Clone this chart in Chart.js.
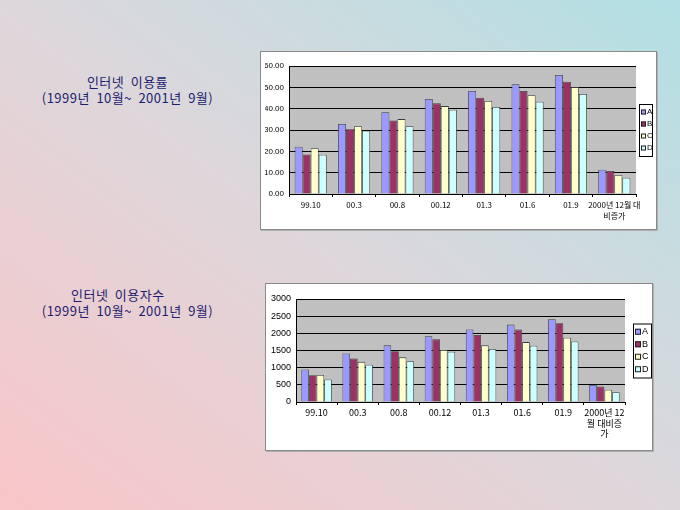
<!DOCTYPE html>
<html>
<head>
<meta charset="utf-8">
<script src="https://cdn.jsdelivr.net/npm/chart.js@4/dist/chart.umd.min.js"></script>
<style>
  html, body { margin: 0; padding: 0; }
  body {
    width: 680px; height: 510px; position: relative; overflow: hidden;
    background: linear-gradient(to top right, #f9c5c8 0%, #ddd7db 50%, #b2e0e4 100%);
    font-family: "Noto Sans CJK KR", sans-serif;
  }
  .title { position: absolute; color: #1c1c6e; font-size: 13px; line-height: 16px; text-align: center; white-space: pre; letter-spacing: 0.5px; word-spacing: 3px; }
  .box { position: absolute; background: #fff; border: 1px solid #8a8a8a; box-shadow: 1px 1px 0 #b0b0b0; }
  .box canvas { position: absolute; left: 0; top: 0; }
</style>
</head>
<body>
<div class="title" style="left:40px; top:74px; width:175px;">인터넷 이용률
(1999년 10월~ 2001년 9월)</div>
<div class="title" style="left:40px; top:287px; width:175px;">인터넷 이용자수   
(1999년 10월~ 2001년 9월)</div>

<div class="box" style="left:260px; top:51px; width:395px; height:177px;">
  <canvas id="rateChart" width="395" height="177"></canvas>
</div>
<div class="box" style="left:265px; top:283px; width:386px; height:166px;">
  <canvas id="userChart" width="386" height="166"></canvas>
</div>

<script>
// data
const rateLabels = ['99.10', '00.3', '00.8', '00.12', '01.3', '01.6', '01.9', ['2000년 12월 대', '비증가']];
const rateA = [22.2, 32.8, 38.3, 44.5, 48.3, 51.4, 55.8, 11.4];
const rateB = [18.5, 30.4, 34.4, 42.5, 45.1, 48.3, 52.6, 10.8];
const rateC = [21.5, 31.8, 35.1, 41.2, 43.6, 46.3, 50.1, 8.9];
const rateD = [18.4, 29.7, 31.8, 39.5, 40.8, 43.3, 46.9, 7.6];
const rateTicks = [0, 10, 20, 30, 40, 50, 60];

const userLabels = ['99.10', '00.3', '00.8', '00.12', '01.3', '01.6', '01.9', ['2000년 12', '월 대비증', '가']];
const userA = [945, 1415, 1650, 1915, 2110, 2255, 2410, 495];
const userB = [780, 1270, 1480, 1825, 1955, 2110, 2295, 455];
const userC = [785, 1170, 1300, 1515, 1650, 1745, 1875, 360];
const userD = [655, 1085, 1190, 1465, 1545, 1640, 1760, 285];
const userTicks = [0, 500, 1000, 1500, 2000, 2500, 3000];

const seriesNames = ['A', 'B', 'C', 'D'];
const seriesColors = ['#9999ff', '#993366', '#ffffcc', '#ccffff'];

const plotBg = {
  id: 'plotBg',
  beforeDraw(chart) {
    const a = chart.chartArea;
    const ctx = chart.ctx;
    ctx.save();
    ctx.fillStyle = '#c0c0c0';
    ctx.fillRect(a.left, a.top, a.right - a.left, a.bottom - a.top);
    ctx.restore();
  }
};

// small boxed legend right of the plot
const boxLegend = {
  id: 'boxLegend',
  afterDraw(chart, args, o) {
    const ctx = chart.ctx;
    const a = chart.chartArea;
    const n = chart.data.datasets.length;
    const h = n * o.lineH + 4;
    const x = a.right + o.gap;
    const y = (a.top + a.bottom) / 2 - h / 2;
    ctx.save();
    ctx.fillStyle = '#fff';
    ctx.fillRect(x, y, o.width, h);
    ctx.strokeStyle = '#000';
    ctx.lineWidth = 1;
    ctx.strokeRect(x + 0.5, y + 0.5, o.width, h);
    ctx.font = o.fontSize + 'px "Liberation Sans", sans-serif';
    ctx.textBaseline = 'middle';
    chart.data.datasets.forEach((ds, i) => {
      const cy = y + 2 + o.lineH * i + o.lineH / 2;
      ctx.fillStyle = ds.backgroundColor;
      ctx.fillRect(x + 2, cy - o.box / 2, o.box, o.box);
      ctx.strokeStyle = '#222';
      ctx.strokeRect(x + 2.5, cy - o.box / 2 + 0.5, o.box - 1, o.box - 1);
      ctx.fillStyle = '#000';
      ctx.fillText(ds.label, x + 3 + o.box, cy);
    });
    ctx.restore();
  }
};

function makeChart(id, labels, series, ticks, cfg) {
  return new Chart(document.getElementById(id), {
    type: 'bar',
    data: {
      labels: labels,
      datasets: series.map((d, i) => ({
        label: seriesNames[i],
        data: d,
        backgroundColor: seriesColors[i],
        borderColor: '#3a3a3a',
        borderWidth: 0.8,
        categoryPercentage: 0.74,
        barPercentage: 1.0
      }))
    },
    options: {
      responsive: false,
      animation: false,
      devicePixelRatio: 1,
      layout: { padding: cfg.padding },
      plugins: {
        legend: { display: false },
        tooltip: { enabled: false },
        boxLegend: cfg.legend
      },
      scales: {
        x: {
          grid: { offset: true, drawOnChartArea: false, color: '#000', tickLength: 3 },
          border: { color: '#000' },
          ticks: {
            color: '#000', padding: 2, maxRotation: 0, autoSkip: false,
            font: { family: '"Noto Sans CJK KR", sans-serif', size: cfg.xFont, lineHeight: cfg.xLine }
          },
          afterFit(s) { s.height = cfg.xHeight; }
        },
        y: {
          min: ticks[0],
          max: ticks[ticks.length - 1],
          afterBuildTicks(s) { s.ticks = ticks.map(v => ({ value: v })); },
          grid: { color: '#000', drawTicks: false },
          border: { color: '#000' },
          ticks: {
            color: '#000', padding: 5,
            font: { family: '"Liberation Sans", sans-serif', size: cfg.yFont },
            callback: cfg.fmt
          },
          afterFit(s) { s.width = cfg.yWidth; }
        }
      }
    },
    plugins: [plotBg, boxLegend]
  });
}

makeChart('rateChart', rateLabels, [rateA, rateB, rateC, rateD], rateTicks, {
  padding: { left: 4, top: 14, right: 20, bottom: 0 },
  yWidth: 24, xHeight: 35, xFont: 8, xLine: 1.45, yFont: 8,
  fmt: v => Number(v).toFixed(2),
  legend: { gap: 3, width: 13, lineH: 12, box: 5, fontSize: 8 }
});

makeChart('userChart', userLabels, [userA, userB, userC, userD], userTicks, {
  padding: { left: 4, top: 15, right: 27, bottom: 0 },
  yWidth: 26, xHeight: 48, xFont: 9, xLine: 1.2, yFont: 9,
  fmt: v => v,
  legend: { gap: 8, width: 18, lineH: 12.5, box: 6, fontSize: 9 }
});
</script>
</body>
</html>
